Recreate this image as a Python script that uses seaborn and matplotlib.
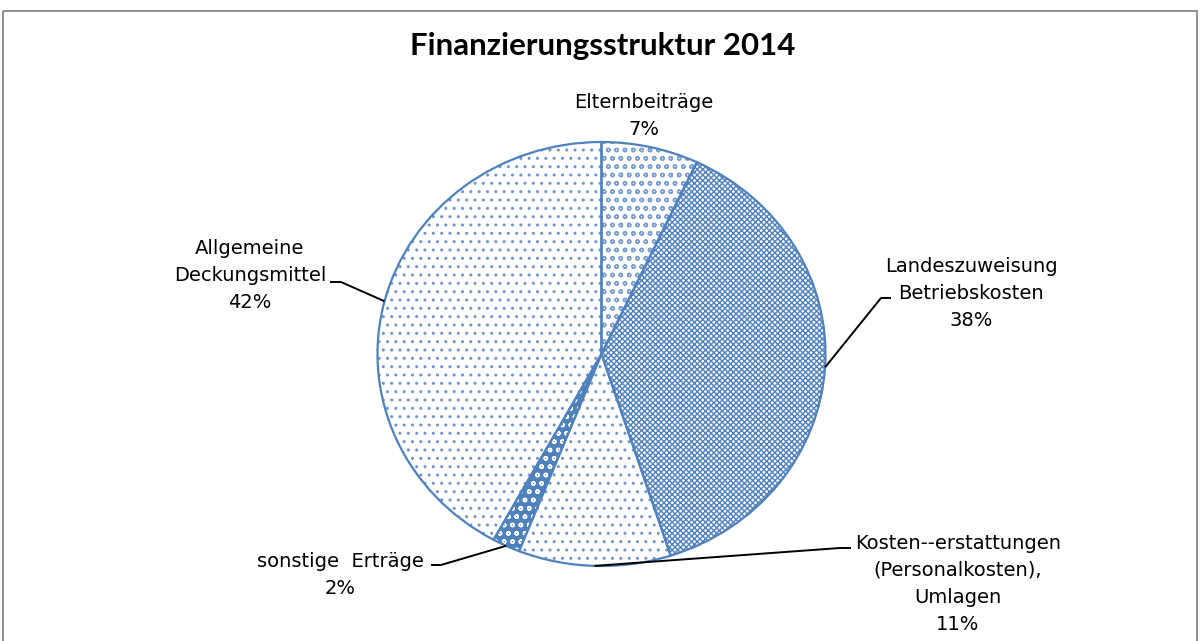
import numpy as np
import matplotlib
matplotlib.use("Agg")
import matplotlib.pyplot as plt
import seaborn as sns
from matplotlib.patches import Rectangle

# Data
title = "Finanzierungsstruktur 2014"
categories = [
    "Elternbeiträge",
    "Landeszuweisung\nBetriebskosten",
    "Kosten--erstattungen\n(Personalkosten),\nUmlagen",
    "sonstige  Erträge",
    "Allgemeine\nDeckungsmittel",
]
shares = [7, 38, 11, 2, 42]

sns.set_theme(style="white")
plt.rcParams["font.family"] = ["DejaVu Sans"]
plt.rcParams["hatch.linewidth"] = 1.0

BLUE = "#4f81bd"
face_colors = ["white", "white", "white", BLUE, "white"]
hatch_colors = ["#7a9fd0", BLUE, "#6f95cc", "white", "#6f95cc"]
hatches = ["oo", "xxxxxx", "..", "oo", ".."]

W, H = 1200, 641
fig = plt.figure(figsize=(W / 100, H / 100), dpi=100)
fig.patch.set_facecolor("white")

# pie axes (slightly wider than tall, giving an elliptical pie)
cx, cy, rx, ry = 601.5, 354, 224, 212
pax = fig.add_axes([(cx - rx) / W, (H - cy - ry) / H, 2 * rx / W, 2 * ry / H])
wedges, _ = pax.pie(shares, startangle=90, counterclock=False,
                    colors=face_colors, wedgeprops=dict(linewidth=0))
for w, h, hc in zip(wedges, hatches, hatch_colors):
    w.set_hatch(h)
    w.set_edgecolor(hc)
pax.pie(shares, startangle=90, counterclock=False,
        wedgeprops=dict(fill=False, edgecolor=BLUE, linewidth=1.6))
pax.set_aspect("auto")
pax.set_xlim(-1, 1)
pax.set_ylim(-1, 1)
pax.axis("off")

# overlay in pixel coordinates for title, labels and leader lines
ov = fig.add_axes([0, 0, 1, 1])
ov.set_xlim(0, W)
ov.set_ylim(H, 0)
ov.axis("off")

ov.add_patch(Rectangle((3, 11), 1194, 700, fill=False, edgecolor="#868686",
                       linewidth=1.3, clip_on=False))

ov.text(603, 55, title, ha="center", va="baseline", fontsize=22.5,
        fontweight="bold", family=["Lato", "DejaVu Sans"], color="black")

label_pos = [(644, 108), (971, 272), (958, 549), (340, 567), (250, 254)]
elbows = [None,
          [(881, 298), (891, 298)],
          [(840, 548), (851, 548)],
          [(441, 565), (431, 565)],
          [(341, 282), (330, 282)]]
pitch = 27

to_px = ov.transData.inverted()
for w, cat, val, (lx, ly), elb in zip(wedges, categories, shares, label_pos, elbows):
    lines = f"{cat}\n{val}%".split("\n")
    for i, line in enumerate(lines):
        ov.text(lx, ly + i * pitch, line, ha="center", va="baseline",
                fontsize=14, color="black")
    if elb is not None:
        mid = np.deg2rad((w.theta1 + w.theta2) / 2)
        disp = pax.transData.transform((np.cos(mid), np.sin(mid)))
        sx, sy = to_px.transform(disp)
        xs = [sx] + [p[0] for p in elb]
        ys = [sy] + [p[1] for p in elb]
        ov.plot(xs, ys, color="black", linewidth=1.4, solid_capstyle="butt")

fig.savefig("out.png", dpi=100, facecolor="white")
